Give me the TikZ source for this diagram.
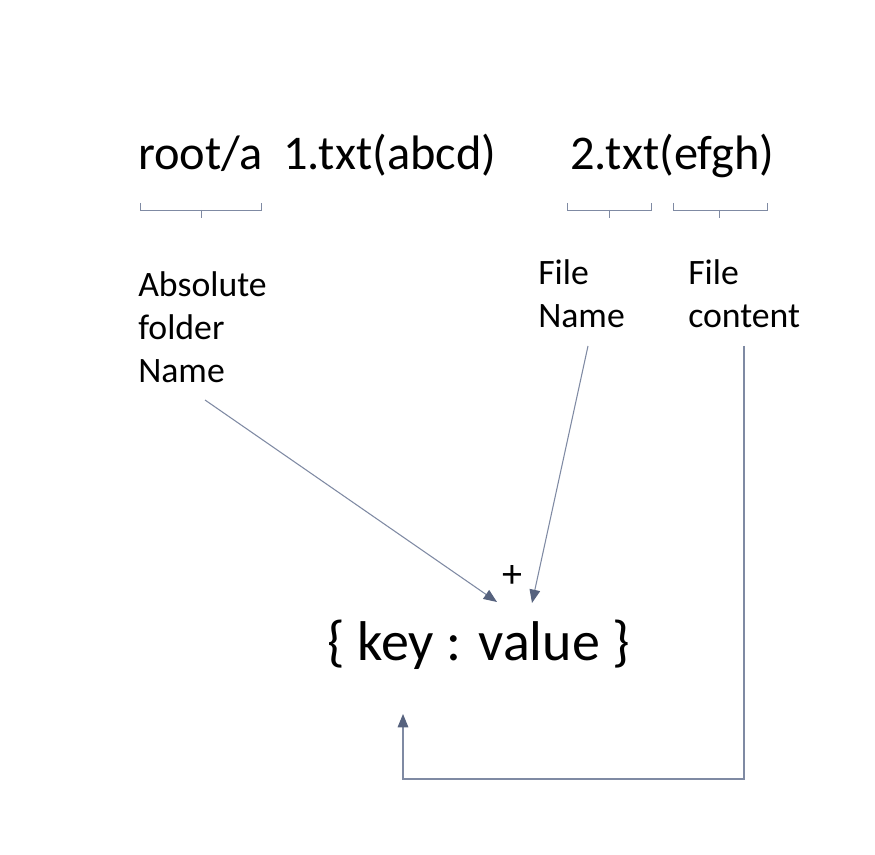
\documentclass[tikz,border=0pt]{standalone}
\usepackage{fontspec}
\setmainfont{Carlito}
\usetikzlibrary{arrows.meta}
\definecolor{linec}{HTML}{7F8AA3}
\definecolor{tipc}{HTML}{56627E}
\begin{document}
\begin{tikzpicture}[x=0.75pt,y=-0.75pt,
  big/.style={inner sep=0pt,anchor=base west,font=\fontsize{36.3}{40}\selectfont},
  lbl/.style={inner sep=0pt,anchor=base west,font=\fontsize{26.8}{32}\selectfont,align=left},
  kv/.style={inner sep=0pt,anchor=base west,font=\fontsize{42}{48}\selectfont},
  brk/.style={draw=linec,line width=0.6pt},
  conn/.style={draw=linec,line width=0.8pt,-{Triangle[length=10pt,width=8pt,color=tipc]}}]
\useasboundingbox (0,0) rectangle (875,855);
\node[big] (root) at (138,170) {root/a};
\node[big] (f1) at (283,170) {1.txt(abcd)};
\node[big] (f2) at (570,170) {2.txt(efgh)};
% brackets
\draw[brk] (140,203) -- (140,210) -- (261,210) -- (261,203);
\draw[brk] (201,210) -- (201,218);
\draw[brk] (567,203) -- (567,210) -- (651,210) -- (651,203);
\draw[brk] (609,210) -- (609,218);
\draw[brk] (673,203) -- (673,210) -- (767,210) -- (767,203);
\draw[brk] (719,210) -- (719,218);
% labels
\node[lbl] (abs) at (138,297) {Absolute};
\node[lbl] (fold) at (138,340) {folder};
\node[lbl] (absn) at (138,383) {Name};
\node[lbl] (fn1) at (538,285) {File};
\node[lbl] (fn2) at (538,328) {Name};
\node[lbl] (fc1) at (688,285) {File};
\node[lbl] (fc2) at (688,328) {content};
% key value
\node[kv] (kv) at (327,660) {\{ key : value \}};
\node[inner sep=0pt,font=\fontsize{30}{32}\selectfont] (plus) at (512,577) {+};
% connectors
\coordinate (a1) at (205,400);
\coordinate (a2) at (497,602);
\coordinate (b1) at (588,346);
\coordinate (b2) at (532,603);
\coordinate (c1) at (744,346);
\coordinate (c2) at (744,779);
\coordinate (c3) at (403,779);
\coordinate (c4) at (403,714);
\draw[conn] (a1) -- (a2);
\draw[conn] (b1) -- (b2);
\draw[conn] (c1) -- (c2) -- (c3) -- (c4);
\end{tikzpicture}
\end{document}
